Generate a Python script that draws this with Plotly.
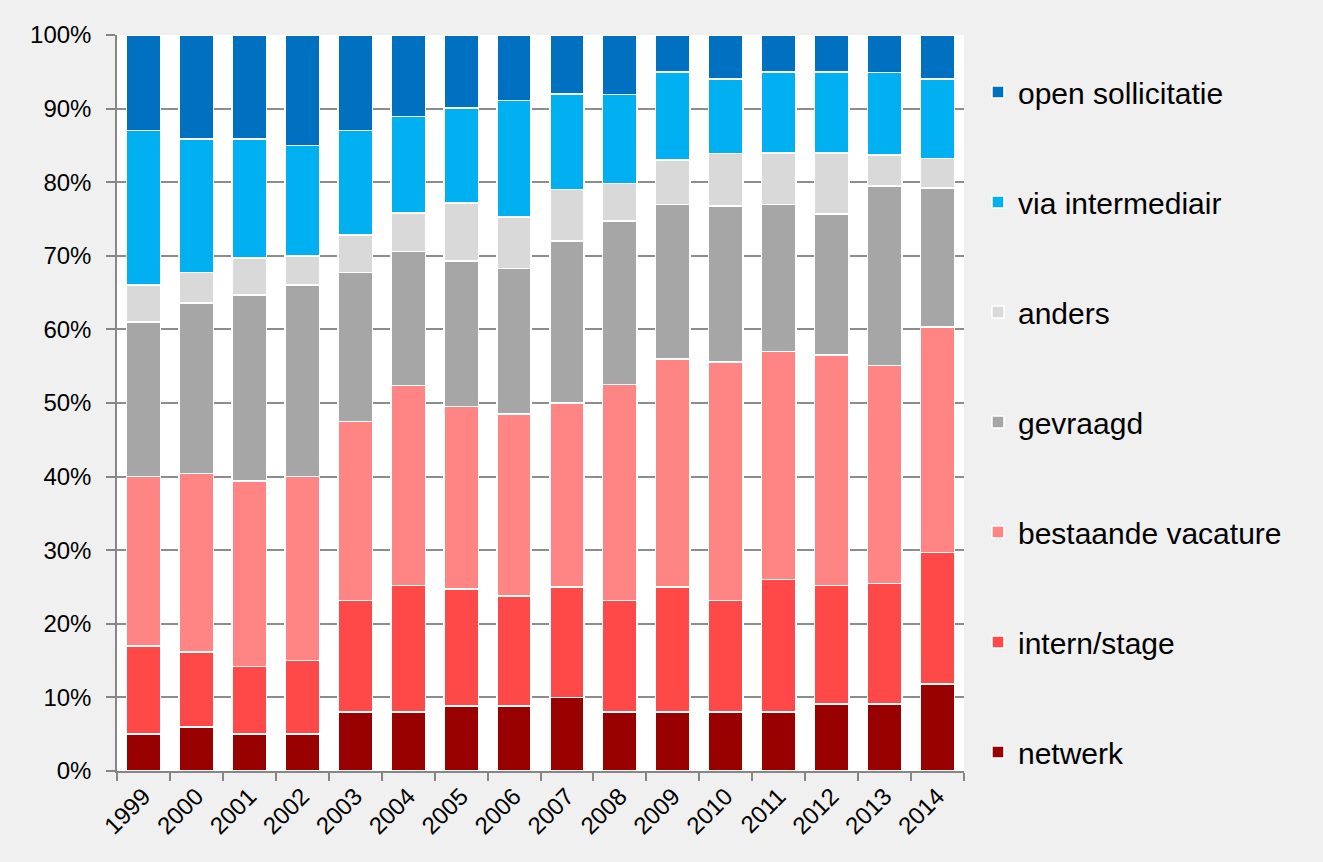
import plotly.graph_objects as go

years = ["1999", "2000", "2001", "2002", "2003", "2004", "2005", "2006",
         "2007", "2008", "2009", "2010", "2011", "2012", "2013", "2014"]

# shares in percent per category (bottom to top of each stack)
netwerk = [5.0, 6.0, 5.0, 5.0, 8.0, 8.0, 8.8, 8.8, 10.0, 8.0, 8.0, 8.0, 8.0, 9.1, 9.1, 11.8]
intern_stage = [12.0, 10.2, 9.2, 10.0, 15.2, 17.2, 15.9, 15.0, 15.0, 15.2, 17.0, 15.2, 18.0, 16.1, 16.4, 17.9]
bestaande_vacature = [23.0, 24.2, 25.2, 25.0, 24.3, 27.2, 24.8, 24.7, 25.0, 29.3, 31.0, 32.4, 31.0, 31.3, 29.6, 30.6]
gevraagd = [21.0, 23.2, 25.3, 26.0, 20.2, 18.2, 19.8, 19.8, 22.0, 22.2, 21.0, 21.2, 20.0, 19.2, 24.4, 18.9]
anders = [5.0, 4.1, 5.0, 4.0, 5.1, 5.2, 7.9, 7.0, 7.0, 5.1, 6.0, 7.1, 7.0, 8.3, 4.2, 4.0]
via_intermediair = [21.0, 18.2, 16.2, 15.0, 14.2, 13.1, 12.9, 15.8, 13.0, 12.1, 12.0, 10.1, 11.0, 11.0, 11.2, 10.8]
open_sollicitatie = [13.0, 14.1, 14.1, 15.0, 13.0, 11.1, 9.9, 8.9, 8.0, 8.1, 5.0, 6.0, 5.0, 5.0, 5.1, 6.0]

series_names = ["netwerk", "intern/stage", "bestaande vacature", "gevraagd",
                "anders", "via intermediair", "open sollicitatie"]
series_values = [netwerk, intern_stage, bestaande_vacature, gevraagd,
                 anders, via_intermediair, open_sollicitatie]
series_colors = ["#990000", "#FF4848", "#FF8585", "#A6A6A6",
                 "#D9D9D9", "#00B0F0", "#0070C0"]

y_tickvals = [0, 10, 20, 30, 40, 50, 60, 70, 80, 90, 100]
y_ticktext = ["0%", "10%", "20%", "30%", "40%", "50%", "60%", "70%", "80%", "90%", "100%"]

fig = go.Figure()
for i, (name, vals, col) in enumerate(zip(series_names, series_values, series_colors)):
    fig.add_trace(go.Bar(
        x=years, y=vals, name=name,
        marker=dict(color=col, line=dict(color="white", width=1.5)),
        legendgroup=name,
        legendrank=1000 - i,
    ))

fig.update_layout(
    barmode="stack",
    bargap=0.35,
    width=1323, height=862,
    margin=dict(l=117, r=359, t=35, b=91),
    paper_bgcolor="#F0F0F0",
    plot_bgcolor="white",
    font=dict(family="Liberation Sans, Arial, sans-serif", color="black"),
    legend=dict(
        x=1.0165, xanchor="left",
        y=0.958, yanchor="top",
        traceorder="grouped",
        tracegroupgap=68,
        font=dict(size=30, family="Liberation Sans, Arial, sans-serif"),
        bgcolor="rgba(0,0,0,0)",
        itemwidth=30,
    ),
    xaxis=dict(
        type="category",
        tickangle=-45,
        tickfont=dict(size=24),
        ticks="outside", ticklen=8, tickcolor="#868686", tickwidth=1.5,
        tickson="boundaries",
        showline=True, linecolor="#868686", linewidth=1.5,
        showgrid=False,
    ),
    yaxis=dict(
        range=[0, 100],
        tickvals=y_tickvals, ticktext=y_ticktext,
        tickfont=dict(size=24),
        ticks="outside", ticklen=9, tickcolor="#868686", tickwidth=1.5,
        ticklabelstandoff=10,
        showline=True, linecolor="#868686", linewidth=1.5,
        showgrid=True, gridcolor="#8C8C8C", gridwidth=1.5,
        zeroline=False,
    ),
)

fig.write_html(
    "out.html",
    config={"displayModeBar": False},
    post_script="document.body.style.margin='0';document.body.style.background='#F0F0F0';",
)
